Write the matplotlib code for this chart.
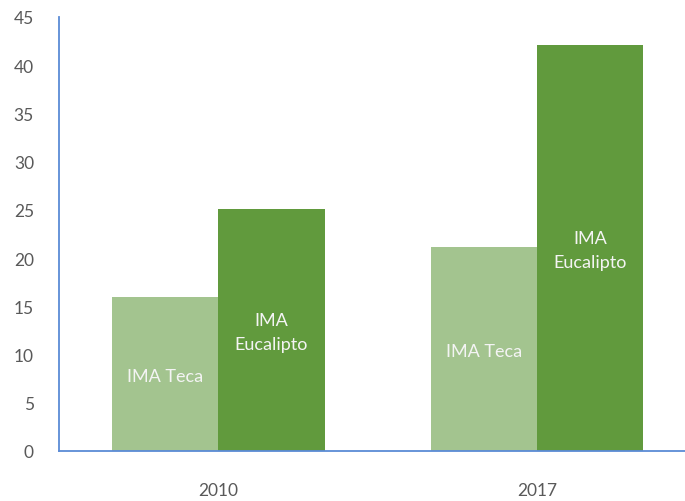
import matplotlib.pyplot as plt
import numpy as np

# valores
anios = ['2010', '2017']
ima_teca = [16.0, 21.2]
ima_eucalipto = [25.1, 42.1]
etiquetas = ['IMA Teca', 'IMA\nEucalipto']

plt.rcParams['font.family'] = ['Lato', 'DejaVu Sans']

fig = plt.figure(figsize=(6.85, 5.02), dpi=100)
# el eje x se sale por la derecha, como en el original
ax = fig.add_axes([59 / 685, 50 / 502, 637.5 / 685, 434 / 502])

x = np.arange(len(anios))
ancho = 1 / 3
b1 = ax.bar(x - ancho / 2, ima_teca, ancho, color='#A3C48F')
b2 = ax.bar(x + ancho / 2, ima_eucalipto, ancho, color='#619A3D')

# etiquetas blancas en el centro de cada barra
for barras, txt in zip([b1, b2], etiquetas):
    for b in barras:
        ax.text(b.get_x() + b.get_width() / 2, b.get_height() / 2 - 0.2, txt,
                ha='center', va='center', color='#F4F4F4', fontsize=13,
                linespacing=1.6)

ax.set_xlim(-0.5, 1.5)
ax.set_ylim(0, 45)
ax.set_yticks(np.arange(0, 46, 5))
ax.set_xticks(x)
ax.set_xticklabels(anios)
ax.tick_params(axis='both', length=0, labelsize=12.5, labelcolor='#595959')
ax.tick_params(axis='y', pad=18)
ax.tick_params(axis='x', pad=22)

for s in ['top', 'right']:
    ax.spines[s].set_visible(False)
for s in ['left', 'bottom']:
    ax.spines[s].set_color('#5B8BD6')
    ax.spines[s].set_linewidth(1.3)

fig.savefig('out.png', dpi=100)
